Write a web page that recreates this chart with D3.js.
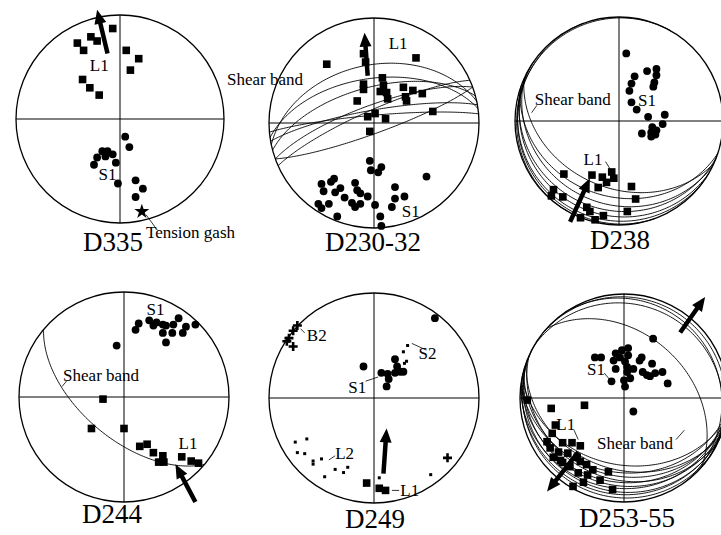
<!DOCTYPE html>
<html>
<head>
<meta charset="utf-8">
<script src="https://cdn.jsdelivr.net/npm/d3@7"></script>
<style>
  body { margin: 0; background: #fff; }
  svg { display: block; }
</style>
</head>
<body>
<script>
// Stereonet data. Points are [east, north] in percent of the net radius.
// Great circles are planes given as dip direction / dip (equal-area, lower hemisphere).

const d335L1 = [[-7,87],[-41,73],[-35,66],[-28,79],[-22,75],[6,66],[18,58],[10,47],[-36,38],[-29,30],[-20,23]];
const d335S1 = [[5,-17],[9,-27],[-17,-31],[-12,-31],[-7,-34],[-22,-37],[-14,-36],[-4,-42],[-25,-44],[-2,-62],[15,-59],[22,-67],[15,-75]];
const d335Gash = [[21,-89]];
const d335Arrows = [[[-12,63],[-22,105]]];

const d230L1 = [[-45,56],[-10,66],[-8,58],[40,62],[8,43],[-10,37],[-10,32],[9,36],[6,30],[13,23],[12,29],[-16,21],
  [28,34],[37,31],[46,28],[30,25],[31,21],[56,11],[-6,6],[1,9],[11,4],[-4,-8]];
const d230S1 = [[-4,-36],[7,-42],[-3,-45],[4,-47],[50,-51],[-38,-53],[-41,-56],[-50,-58],[-48,-65],[-32,-62],[-37,-66],
  [-18,-57],[-16,-64],[-13,-67],[-6,-70],[-28,-71],[20,-61],[29,-70],[20,-72],[-53,-77],[-50,-81],[-43,-77],[-21,-76],
  [-18,-80],[-13,-77],[1,-78],[17,-80],[-35,-89],[6,-89],[7,-98]];
const d230Planes = [{dd:348,dip:44},{dd:352,dip:55},{dd:345,dip:62},{dd:340,dip:76},{dd:350,dip:80},{dd:355,dip:84},{dd:336,dip:80},{dd:160,dip:82}];
const d230Arrows = [[[-6,45],[-9,86]]];

const d238S1 = [[7,65],[15,43],[27,48],[36,50],[36,44],[12,36],[34,37],[33,33],[10,29],[12,18],[17,11],[28,4],[44,6],
  [42,-3],[32,-6],[36,-9],[31,-11],[35,-13],[22,-12],[31,-15]];
const d238L1 = [[-53,-51],[-26,-52],[-16,-54],[-7,-49],[-5,-55],[-12,-59],[-20,-64],[12,-63],[-63,-66],[-65,-72],[-54,-73],
  [16,-75],[-31,-83],[-28,-87],[8,-87],[-15,-91],[-37,-93],[-23,-95]];
const d238Planes = [{dd:204,dip:36},{dd:198,dip:28},{dd:205,dip:21},{dd:200,dip:15},{dd:210,dip:10},{dd:215,dip:5},{dd:250,dip:3},{dd:300,dip:2}];
const d238Arrows = [[[-47,-97],[-28,-55]]];

const d244S1 = [[11,64],[14,70],[24,73],[31,71],[37,69],[28,68],[40,68],[47,69],[52,75],[37,61],[46,61],[40,52],[56,61],[59,67],[68,69],[-7,49]];
const d244L1 = [[-20,-2],[-31,-30],[0,-30],[15,-47],[22,-45],[28,-53],[37,-56],[33,-62],[38,-62],[55,-57],[64,-61],[71,-63]];
const d244Planes = [{dd:220,dip:58}];
const d244Arrows = [[[68,-100],[49,-64]]];

const d249S1 = [[58,76],[-10,30],[7,24],[13,23],[20,37],[22,30],[25,25],[20,24],[14,18],[12,11],[28,25]];
const d249S2 = [[32,50],[28,44],[31,35],[29,33]];
const d249B2 = [[-73,69],[-77,64],[-81,57],[-83,54],[-77,49],[70,-57]];
const d249L2 = [[-75,-42],[-64,-39],[-73,-52],[-66,-53],[-58,-60],[-58,-63],[-50,-58],[-47,-75],[-37,-68],[-29,-71],[-25,-66],[54,-73],[5,-76]];
const d249L1 = [[-7,-81],[5,-86],[11,-88]];
const d249Arrows = [[[9,-72],[12,-29]]];

const d253S1 = [[28,57],[-28,39],[-22,39],[-8,43],[-2,46],[4,48],[-4,39],[4,41],[-10,36],[1,35],[17,39],[15,36],[27,33],
  [-8,28],[3,30],[9,28],[3,25],[18,25],[22,22],[30,24],[25,21],[37,25],[42,14],[-12,16],[0,17],[6,19],[1,11],[9,-13]];
const d253L1 = [[-93,-2],[-70,-10],[-38,-7],[-66,-26],[-69,-34],[-74,-42],[-59,-43],[-50,-43],[-42,-46],[-71,-48],[-63,-52],
  [-54,-53],[-45,-57],[-68,-57],[-61,-60],[-42,-61],[-36,-64],[-52,-66],[-30,-69],[-15,-71],[-44,-72],[-35,-74],[-23,-79],
  [-49,-85],[-11,-88],[-39,-81],[-59,-62]];
const d253Planes = [{dd:42,dip:38},{dd:192,dip:36},{dd:200,dip:32},{dd:188,dip:29},{dd:196,dip:26},{dd:204,dip:23},{dd:190,dip:20},
  {dd:198,dip:17},{dd:186,dip:14},{dd:202,dip:11},{dd:194,dip:8},{dd:210,dip:5},{dd:40,dip:4},{dd:55,dip:8},{dd:30,dip:11}];
const d253Arrows = [[[-44,-52],[-74,-90]],[[54,63],[78,97]]];

// layout: net centre/radius in px, title position, labels in net units
const panels = [
  { title: "D335", cx: 120, cy: 119, r: 104, tx: 113, ty: 251,
    layers: [{data: d335L1, mark: "square"}, {data: d335S1, mark: "dot"}, {data: d335Gash, mark: "star"}],
    planes: [], arrows: d335Arrows,
    labels: [{t: "L1", at: [-20,52]}, {t: "S1", at: [-12,-53]}, {t: "Tension gash", at: [25,-109], a: "start"}],
    leaders: [[[25,-92],[36,-107]]] },
  { title: "D230-32", cx: 374, cy: 123, r: 105, tx: 373, ty: 251,
    layers: [{data: d230L1, mark: "square"}, {data: d230S1, mark: "dot"}],
    planes: d230Planes, arrows: d230Arrows,
    labels: [{t: "L1", at: [23,76]}, {t: "S1", at: [35,-84]}, {t: "Shear band", at: [-140,42], a: "start"}],
    leaders: [] },
  { title: "D238", cx: 619, cy: 121, r: 104, tx: 620, ty: 249,
    layers: [{data: d238S1, mark: "dot"}, {data: d238L1, mark: "square"}],
    planes: d238Planes, arrows: d238Arrows,
    labels: [{t: "L1", at: [-25,-37]}, {t: "S1", at: [27,20]}, {t: "Shear band", at: [-81,21], a: "start"}],
    leaders: [[[-13,-39],[-8,-47]], [[-79,15],[-84,8]]] },
  { title: "D244", cx: 124, cy: 397, r: 105, tx: 112, ty: 523,
    layers: [{data: d244S1, mark: "dot"}, {data: d244L1, mark: "square"}],
    planes: d244Planes, arrows: d244Arrows,
    labels: [{t: "S1", at: [30,84]}, {t: "L1", at: [61,-44]}, {t: "Shear band", at: [-58,21], a: "start"}],
    leaders: [[[-54,16],[-59,10]]] },
  { title: "D249", cx: 374, cy: 398, r: 105, tx: 375, ty: 528,
    layers: [{data: d249S1, mark: "dot"}, {data: d249S2, mark: "small"}, {data: d249B2, mark: "cross"},
             {data: d249L2, mark: "small"}, {data: d249L1, mark: "square"}],
    planes: [], arrows: d249Arrows,
    labels: [{t: "B2", at: [-64,60], a: "start"}, {t: "S2", at: [51,43]}, {t: "S1", at: [-16,10]},
             {t: "L2", at: [-37,-52], a: "start"}, {t: "L1", at: [25,-88], a: "start"}],
    leaders: [[[-70,66],[-66,62]], [[36,52],[49,46]], [[-8,16],[4,20]], [[-43,-59],[-37,-55]], [[17,-88],[24,-88]]] },
  { title: "D253-55", cx: 624, cy: 398, r: 104, tx: 627, ty: 527,
    layers: [{data: d253S1, mark: "dot"}, {data: d253L1, mark: "square"}],
    planes: d253Planes, arrows: d253Arrows,
    labels: [{t: "S1", at: [-27,28]}, {t: "L1", at: [-56,-25]}, {t: "Shear band", at: [-26,-43], a: "start"}],
    leaders: [[[-19,24],[-14,18]], [[-48,-31],[-44,-40]], [[50,-40],[58,-31]]] }
];

const svg = d3.select("body").append("svg").attr("width", 721).attr("height", 535)
  .style("font-family", "'Liberation Serif', 'DejaVu Serif', serif");

// equal-area lower hemisphere trace of a plane, in net units
function planeTrace(dd, dip) {
  const rad = Math.PI / 180, s = (dd - 90) * rad, a = dd * rad, d = dip * rad;
  const S = [Math.sin(s), Math.cos(s), 0];
  const D = [Math.cos(d) * Math.sin(a), Math.cos(d) * Math.cos(a), Math.sin(d)];
  return d3.range(0, 180.5, 1.5).map(t => {
    const c = Math.cos(t * rad), sn = Math.sin(t * rad);
    const L = [c * S[0] + sn * D[0], c * S[1] + sn * D[1], c * S[2] + sn * D[2]];
    const h = Math.hypot(L[0], L[1]) || 1e-9, r = Math.sqrt(Math.max(0, 1 - L[2]));
    return [100 * r * L[0] / h, 100 * r * L[1] / h];
  });
}

function arrowPath(x1, y1, x2, y2) {
  const w = 4.5, hw = 12, hl = 14;
  const L = Math.hypot(x2 - x1, y2 - y1), ux = (x2 - x1) / L, uy = (y2 - y1) / L, px = -uy, py = ux;
  const bx = x2 - ux * hl, by = y2 - uy * hl;
  return d3.line()([
    [x1 + px * w / 2, y1 + py * w / 2], [bx + px * w / 2, by + py * w / 2], [bx + px * hw / 2, by + py * hw / 2],
    [x2, y2], [bx - px * hw / 2, by - py * hw / 2], [bx - px * w / 2, by - py * w / 2], [x1 - px * w / 2, y1 - py * w / 2]
  ]) + "Z";
}

panels.forEach(p => {
  const x = d3.scaleLinear().domain([-100, 100]).range([p.cx - p.r, p.cx + p.r]);
  const y = d3.scaleLinear().domain([-100, 100]).range([p.cy + p.r, p.cy - p.r]);
  const g = svg.append("g");

  g.append("circle").attr("cx", x(0)).attr("cy", y(0)).attr("r", p.r)
    .attr("fill", "none").attr("stroke", "#000").attr("stroke-width", 1.3);
  g.append("line").attr("x1", x(-100)).attr("x2", x(100)).attr("y1", y(0)).attr("y2", y(0))
    .attr("stroke", "#000").attr("stroke-width", 1);
  g.append("line").attr("x1", x(0)).attr("x2", x(0)).attr("y1", y(100)).attr("y2", y(-100))
    .attr("stroke", "#000").attr("stroke-width", 1);

  const line = d3.line().x(d => x(d[0])).y(d => y(d[1]));
  g.selectAll(null).data(p.planes).join("path")
    .attr("d", d => line(planeTrace(d.dd, d.dip)))
    .attr("fill", "none").attr("stroke", "#000").attr("stroke-width", 0.9);

  p.layers.forEach(layer => {
    const sel = g.selectAll(null).data(layer.data);
    if (layer.mark === "square") {
      sel.join("rect").attr("x", d => x(d[0]) - 3.8).attr("y", d => y(d[1]) - 3.8)
        .attr("width", 7.6).attr("height", 7.6).attr("fill", "#000");
    } else if (layer.mark === "dot") {
      sel.join("circle").attr("cx", d => x(d[0])).attr("cy", d => y(d[1])).attr("r", 3.9).attr("fill", "#000");
    } else if (layer.mark === "small") {
      sel.join("rect").attr("x", d => x(d[0]) - 1.5).attr("y", d => y(d[1]) - 1.5)
        .attr("width", 3).attr("height", 3).attr("fill", "#000");
    } else if (layer.mark === "cross") {
      sel.join("path").attr("transform", d => `translate(${x(d[0])},${y(d[1])})`)
        .attr("d", "M-4.5,0H4.5M0,-4.5V4.5").attr("stroke", "#000").attr("stroke-width", 2.6);
    } else if (layer.mark === "star") {
      sel.join("path").attr("transform", d => `translate(${x(d[0])},${y(d[1])})`)
        .attr("d", d3.symbol(d3.symbolStar, 70)).attr("fill", "#000");
    }
  });

  g.selectAll(null).data(p.arrows).join("path")
    .attr("d", d => arrowPath(x(d[0][0]), y(d[0][1]), x(d[1][0]), y(d[1][1])))
    .attr("fill", "#000");

  g.selectAll(null).data(p.leaders).join("path")
    .attr("d", d => line(d)).attr("fill", "none").attr("stroke", "#000").attr("stroke-width", 0.8);

  g.selectAll(null).data(p.labels).join("text")
    .attr("x", d => x(d.at[0])).attr("y", d => y(d.at[1])).attr("dy", "0.35em")
    .attr("text-anchor", d => d.a || "middle")
    .attr("font-size", 17).text(d => d.t);

  svg.append("text").attr("x", p.tx).attr("y", p.ty).attr("text-anchor", "middle")
    .attr("font-size", 27).text(p.title);
});
</script>
</body>
</html>
